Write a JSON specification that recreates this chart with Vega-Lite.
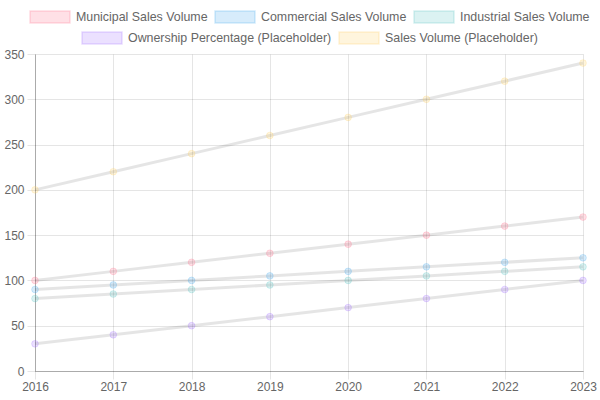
{
  "$schema": "https://vega.github.io/schema/vega-lite/v6.json",
  "width": 548,
  "height": 317,
  "autosize": {"type": "none"},
  "padding": {"left": 35, "top": 54, "right": 17, "bottom": 29},
  "background": "white",
  "config": {
    "font": "Liberation Sans",
    "view": {"stroke": null},
    "axis": {
      "labelColor": "#666666",
      "labelFontSize": 12,
      "labelFont": "Liberation Sans",
      "gridColor": "rgba(0,0,0,0.1)",
      "tickColor": "rgba(0,0,0,0.1)",
      "domainColor": "rgba(0,0,0,0.25)",
      "tickSize": 8,
      "title": null
    },
    "legend": {
      "orient": "top",
      "direction": "horizontal",
      "title": null,
      "padding": 0,
      "labelColor": "#666666",
      "labelFontSize": 12.4,
      "labelFont": "Liberation Sans",
      "labelLimit": 0,
      "symbolType": "M-1,-1H5.667V1H-1Z",
      "symbolSize": 144,
      "labelOffset": 33,
      "columnPadding": 4,
      "offset": 7,
      "layout": {"top": {"anchor": "middle", "direction": "vertical", "margin": 5, "center": true, "bounds": "full"}}
    }
  },
  "data": {
    "values": [
      {"series": "Municipal Sales Volume", "year": "2016", "value": 100},
      {"series": "Municipal Sales Volume", "year": "2017", "value": 110},
      {"series": "Municipal Sales Volume", "year": "2018", "value": 120},
      {"series": "Municipal Sales Volume", "year": "2019", "value": 130},
      {"series": "Municipal Sales Volume", "year": "2020", "value": 140},
      {"series": "Municipal Sales Volume", "year": "2021", "value": 150},
      {"series": "Municipal Sales Volume", "year": "2022", "value": 160},
      {"series": "Municipal Sales Volume", "year": "2023", "value": 170},
      {"series": "Commercial Sales Volume", "year": "2016", "value": 90},
      {"series": "Commercial Sales Volume", "year": "2017", "value": 95},
      {"series": "Commercial Sales Volume", "year": "2018", "value": 100},
      {"series": "Commercial Sales Volume", "year": "2019", "value": 105},
      {"series": "Commercial Sales Volume", "year": "2020", "value": 110},
      {"series": "Commercial Sales Volume", "year": "2021", "value": 115},
      {"series": "Commercial Sales Volume", "year": "2022", "value": 120},
      {"series": "Commercial Sales Volume", "year": "2023", "value": 125},
      {"series": "Industrial Sales Volume", "year": "2016", "value": 80},
      {"series": "Industrial Sales Volume", "year": "2017", "value": 85},
      {"series": "Industrial Sales Volume", "year": "2018", "value": 90},
      {"series": "Industrial Sales Volume", "year": "2019", "value": 95},
      {"series": "Industrial Sales Volume", "year": "2020", "value": 100},
      {"series": "Industrial Sales Volume", "year": "2021", "value": 105},
      {"series": "Industrial Sales Volume", "year": "2022", "value": 110},
      {"series": "Industrial Sales Volume", "year": "2023", "value": 115},
      {"series": "Ownership Percentage (Placeholder)", "year": "2016", "value": 30},
      {"series": "Ownership Percentage (Placeholder)", "year": "2017", "value": 40},
      {"series": "Ownership Percentage (Placeholder)", "year": "2018", "value": 50},
      {"series": "Ownership Percentage (Placeholder)", "year": "2019", "value": 60},
      {"series": "Ownership Percentage (Placeholder)", "year": "2020", "value": 70},
      {"series": "Ownership Percentage (Placeholder)", "year": "2021", "value": 80},
      {"series": "Ownership Percentage (Placeholder)", "year": "2022", "value": 90},
      {"series": "Ownership Percentage (Placeholder)", "year": "2023", "value": 100},
      {"series": "Sales Volume (Placeholder)", "year": "2016", "value": 200},
      {"series": "Sales Volume (Placeholder)", "year": "2017", "value": 220},
      {"series": "Sales Volume (Placeholder)", "year": "2018", "value": 240},
      {"series": "Sales Volume (Placeholder)", "year": "2019", "value": 260},
      {"series": "Sales Volume (Placeholder)", "year": "2020", "value": 280},
      {"series": "Sales Volume (Placeholder)", "year": "2021", "value": 300},
      {"series": "Sales Volume (Placeholder)", "year": "2022", "value": 320},
      {"series": "Sales Volume (Placeholder)", "year": "2023", "value": 340}
    ]
  },
  "encoding": {
    "x": {
      "field": "year",
      "type": "ordinal",
      "scale": {"type": "point", "padding": 0},
      "axis": {"labelAngle": 0, "grid": true, "labelPadding": 2}
    },
    "y": {
      "field": "value",
      "type": "quantitative",
      "scale": {"domain": [0, 350], "nice": false},
      "axis": {"values": [0, 50, 100, 150, 200, 250, 300, 350], "grid": true, "labelPadding": 3}
    }
  },
  "layer": [
    {
      "mark": {"type": "line", "stroke": "rgba(0,0,0,0.1)", "strokeWidth": 3},
      "encoding": {"detail": {"field": "series"}}
    },
    {
      "transform": [{"filter": {"field": "series", "oneOf": ["Municipal Sales Volume", "Commercial Sales Volume", "Industrial Sales Volume"]}}],
      "mark": {"type": "point", "filled": false, "size": 45, "strokeWidth": 1, "opacity": 1},
      "encoding": {
        "fill": {
          "field": "series",
          "type": "nominal",
          "sort": null,
          "scale": {"domain": ["Municipal Sales Volume", "Commercial Sales Volume", "Industrial Sales Volume"], "range": ["rgba(255,99,132,0.2)", "rgba(54,162,235,0.2)", "rgba(75,192,192,0.2)"]},
          "legend": {"encode": {"symbols": {"update": {"stroke": {"value": "rgba(0,0,0,0.1)"}, "strokeWidth": {"value": 3}}}}}
        },
        "stroke": {
          "field": "series",
          "type": "nominal",
          "scale": {"domain": ["Municipal Sales Volume", "Commercial Sales Volume", "Industrial Sales Volume"], "range": ["rgba(255,99,132,0.22)", "rgba(54,162,235,0.22)", "rgba(75,192,192,0.22)"]},
          "legend": null
        }
      }
    },
    {
      "transform": [{"filter": {"field": "series", "oneOf": ["Ownership Percentage (Placeholder)", "Sales Volume (Placeholder)"]}}],
      "mark": {"type": "point", "filled": false, "size": 45, "strokeWidth": 1, "opacity": 1},
      "encoding": {
        "fill": {
          "field": "series",
          "type": "nominal",
          "sort": null,
          "scale": {"domain": ["Ownership Percentage (Placeholder)", "Sales Volume (Placeholder)"], "range": ["rgba(153,102,255,0.2)", "rgba(255,206,86,0.2)"]},
          "legend": {"encode": {"symbols": {"update": {"stroke": {"value": "rgba(0,0,0,0.1)"}, "strokeWidth": {"value": 3}}}}}
        },
        "stroke": {
          "field": "series",
          "type": "nominal",
          "scale": {"domain": ["Ownership Percentage (Placeholder)", "Sales Volume (Placeholder)"], "range": ["rgba(153,102,255,0.22)", "rgba(255,206,86,0.22)"]},
          "legend": null
        }
      }
    }
  ],
  "resolve": {"scale": {"fill": "independent", "stroke": "independent"}, "legend": {"fill": "independent"}}
}
